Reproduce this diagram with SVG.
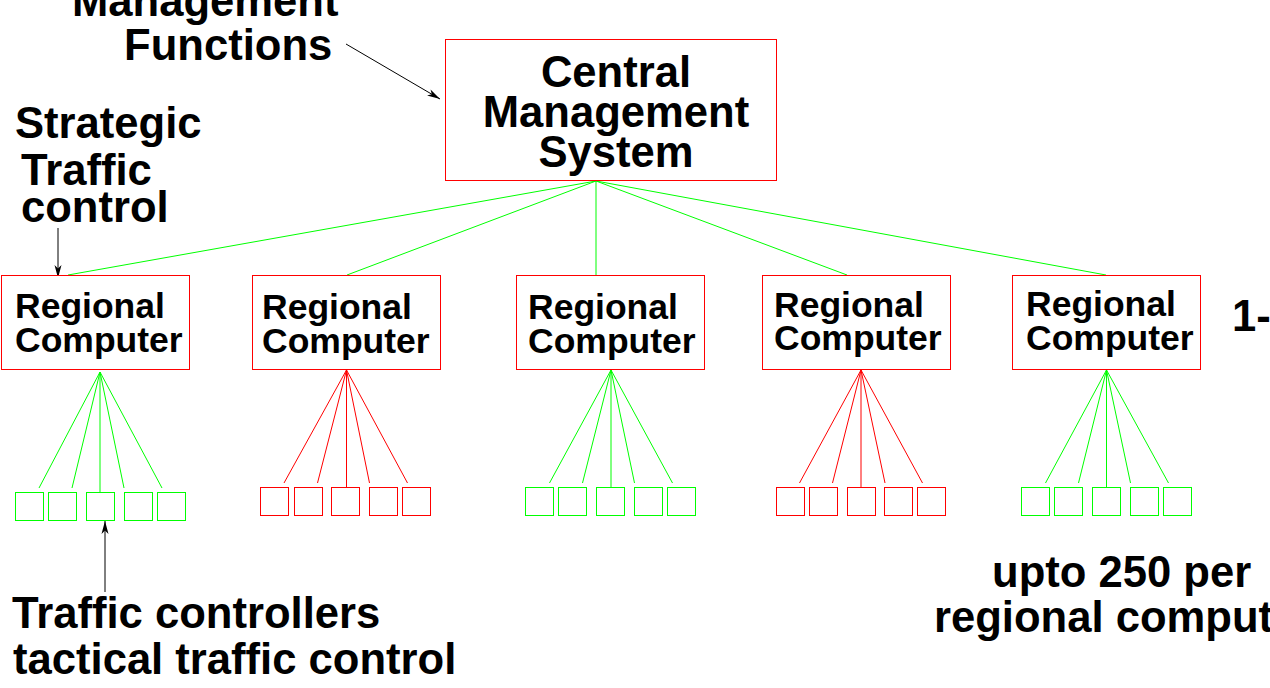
<svg xmlns="http://www.w3.org/2000/svg" width="1270" height="688" viewBox="0 0 1270 688">
<style>
.t{font-family:"Liberation Sans",Arial,sans-serif;font-weight:bold;fill:#000}
.big{font-size:43.6px}
.reg{font-size:35.5px}
.box{fill:#fff;stroke:#ff0000;stroke-width:1}
.gb{fill:none;stroke:#00ff00;stroke-width:1}
.rb{fill:none;stroke:#ff0000;stroke-width:1}
.g{stroke:#00ff00;stroke-width:1;fill:none}
.r{stroke:#ff0000;stroke-width:1;fill:none}
.a{stroke:#000;stroke-width:1;fill:none;marker-end:url(#ah)}
</style>
<defs>
<marker id="ah" markerUnits="userSpaceOnUse" markerWidth="14" markerHeight="8" refX="13" refY="4" orient="auto">
<path d="M0,0.5 L13,4 L0,7.5 L3.5,4 Z" fill="#000"/>
</marker>
</defs>
<rect width="1270" height="688" fill="#fff"/>
<g id="connectors">
<line class="g" x1="596" y1="181" x2="68" y2="275"/>
<line class="g" x1="596" y1="181" x2="347" y2="275"/>
<line class="g" x1="596" y1="181" x2="596" y2="275"/>
<line class="g" x1="596" y1="181" x2="847" y2="275"/>
<line class="g" x1="596" y1="181" x2="1106" y2="275"/>
<g class="g">
<line x1="100" y1="372" x2="39" y2="488"/>
<line x1="100" y1="372" x2="72" y2="488"/>
<line x1="100" y1="372" x2="100" y2="492"/>
<line x1="100" y1="372" x2="124" y2="488"/>
<line x1="100" y1="372" x2="162" y2="488"/>
</g>
<g class="r">
<line x1="346.5" y1="370" x2="284" y2="483"/>
<line x1="346.5" y1="370" x2="317.5" y2="483"/>
<line x1="346.5" y1="370" x2="346.5" y2="488"/>
<line x1="346.5" y1="370" x2="369.5" y2="483"/>
<line x1="346.5" y1="370" x2="407.5" y2="483"/>
</g>
<g class="g">
<line x1="611" y1="370" x2="549.5" y2="483"/>
<line x1="611" y1="370" x2="582.5" y2="483"/>
<line x1="611" y1="370" x2="611" y2="488"/>
<line x1="611" y1="370" x2="634.5" y2="483"/>
<line x1="611" y1="370" x2="672.5" y2="483"/>
</g>
<g class="r">
<line x1="861" y1="370" x2="799.5" y2="483"/>
<line x1="861" y1="370" x2="832.5" y2="483"/>
<line x1="861" y1="370" x2="861" y2="488"/>
<line x1="861" y1="370" x2="885" y2="483"/>
<line x1="861" y1="370" x2="922.5" y2="483"/>
</g>
<g class="g">
<line x1="1106.5" y1="370" x2="1045.5" y2="483"/>
<line x1="1106.5" y1="370" x2="1078.5" y2="483"/>
<line x1="1106.5" y1="370" x2="1106.5" y2="488"/>
<line x1="1106.5" y1="370" x2="1130.5" y2="483"/>
<line x1="1106.5" y1="370" x2="1168.5" y2="483"/>
</g>
<line class="a" x1="346" y1="44" x2="440" y2="99"/>
<line class="a" x1="58" y1="228" x2="58" y2="278"/>
<line class="a" x1="105" y1="592" x2="105" y2="521"/>
</g>
<g id="central">
<rect class="box" x="445.5" y="39.5" width="331" height="141"/>
<text class="t big" x="616" y="87" text-anchor="middle">Central</text>
<text class="t big" x="616" y="127" text-anchor="middle">Management</text>
<text class="t big" x="616" y="167" text-anchor="middle">System</text>
</g>
<g id="regional1">
<rect class="box" x="1.5" y="275.5" width="188" height="94"/>
<text class="t reg" x="15" y="318">Regional</text>
<text class="t reg" x="15" y="352">Computer</text>
</g>
<g id="regional2">
<rect class="box" x="252.5" y="275.5" width="188" height="94"/>
<text class="t reg" x="262" y="319">Regional</text>
<text class="t reg" x="262" y="353">Computer</text>
</g>
<g id="regional3">
<rect class="box" x="516.5" y="275.5" width="188" height="94"/>
<text class="t reg" x="528" y="319">Regional</text>
<text class="t reg" x="528" y="353">Computer</text>
</g>
<g id="regional4">
<rect class="box" x="762.5" y="275.5" width="188" height="94"/>
<text class="t reg" x="774" y="317">Regional</text>
<text class="t reg" x="774" y="350">Computer</text>
</g>
<g id="regional5">
<rect class="box" x="1012.5" y="275.5" width="188" height="94"/>
<text class="t reg" x="1026" y="316">Regional</text>
<text class="t reg" x="1026" y="350">Computer</text>
</g>
<g id="controllers1">
<rect class="gb" x="15.5" y="492.5" width="28" height="28"/>
<rect class="gb" x="48.5" y="492.5" width="28" height="28"/>
<rect class="gb" x="86.5" y="492.5" width="28" height="28"/>
<rect class="gb" x="124.5" y="492.5" width="28" height="28"/>
<rect class="gb" x="157.5" y="492.5" width="28" height="28"/>
</g>
<g id="controllers2">
<rect class="rb" x="260.5" y="487.5" width="28" height="28"/>
<rect class="rb" x="294.5" y="487.5" width="28" height="28"/>
<rect class="rb" x="331.5" y="487.5" width="28" height="28"/>
<rect class="rb" x="369.5" y="487.5" width="28" height="28"/>
<rect class="rb" x="402.5" y="487.5" width="28" height="28"/>
</g>
<g id="controllers3">
<rect class="gb" x="525.5" y="487.5" width="28" height="28"/>
<rect class="gb" x="558.5" y="487.5" width="28" height="28"/>
<rect class="gb" x="596.5" y="487.5" width="28" height="28"/>
<rect class="gb" x="634.5" y="487.5" width="28" height="28"/>
<rect class="gb" x="667.5" y="487.5" width="28" height="28"/>
</g>
<g id="controllers4">
<rect class="rb" x="776.5" y="487.5" width="28" height="28"/>
<rect class="rb" x="809.5" y="487.5" width="28" height="28"/>
<rect class="rb" x="847.5" y="487.5" width="28" height="28"/>
<rect class="rb" x="884.5" y="487.5" width="28" height="28"/>
<rect class="rb" x="917.5" y="487.5" width="28" height="28"/>
</g>
<g id="controllers5">
<rect class="gb" x="1021.5" y="487.5" width="28" height="28"/>
<rect class="gb" x="1054.5" y="487.5" width="28" height="28"/>
<rect class="gb" x="1092.5" y="487.5" width="28" height="28"/>
<rect class="gb" x="1130.5" y="487.5" width="28" height="28"/>
<rect class="gb" x="1163.5" y="487.5" width="28" height="28"/>
</g>
<g id="labels">
<text class="t big" x="72" y="16">Management</text>
<text class="t big" x="124" y="60">Functions</text>
<text class="t big" x="15" y="138">Strategic</text>
<text class="t big" x="21" y="185">Traffic</text>
<text class="t big" x="21" y="222">control</text>
<text class="t big" x="1232" y="331">1-</text>
<text class="t big" x="12" y="628">Traffic controllers</text>
<text class="t big" x="13" y="674">tactical traffic control</text>
<text class="t big" x="992" y="587">upto 250 per</text>
<text class="t big" x="934" y="632">regional comput</text>
</g>
</svg>
